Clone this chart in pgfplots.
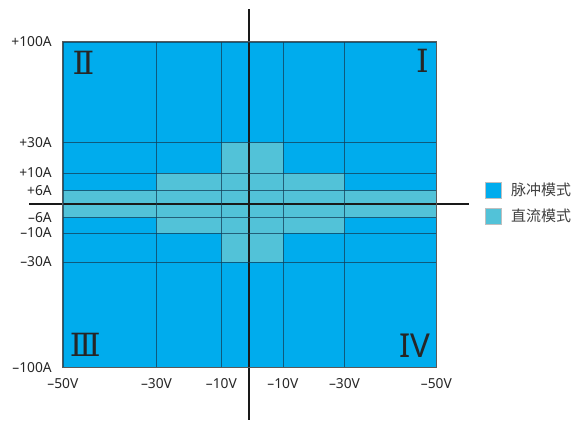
\documentclass[border=0pt]{standalone}
\usepackage{fontspec}
\setmainfont{Noto Sans}
\newfontfamily\cjk{Noto Sans CJK SC}
\newfontfamily\romanfont{DejaVu Serif}
\usepackage{pgfplots}
\pgfplotsset{compat=1.18}
\definecolor{pulse}{HTML}{00ACED}
\definecolor{dcmode}{HTML}{52C2D8}
\definecolor{gridc}{HTML}{143F58}
\begin{document}
\begin{tikzpicture}
\begin{axis}[
  x=1pt, y=1pt,
  xmin=63, xmax=437, ymin=53, ymax=379,
  clip=false, axis on top,
  grid=major,
  grid style={draw=gridc, line width=0.7pt, opacity=0.75},
  axis line style={draw=black!65, line width=0.9pt},
  major tick length=0pt,
  xtick={63,156.7,221.7,283.3,345,437},
  xticklabels={–50V,–30V,–10V,–10V,–30V,–50V},
  ytick={53,158.7,187.7,203.3,230,247.7,278.3,379},
  yticklabels={–100A,–30A,–10A,–6A,+6A,+10A,+30A,+100A},
  tick label style={font=\fontsize{13.8}{15}\selectfont, text=black!85},
  xticklabel style={anchor=north, inner sep=0pt, yshift=-11pt},
  yticklabel style={anchor=east, inner sep=0pt, xshift=-11pt},
  legend style={at={(axis cs:485.7,239)}, anchor=north west, draw=none, fill=none,
    inner sep=0pt, row sep=9pt, font=\cjk\fontsize{15}{17}\selectfont,
    text=black!75, nodes={inner sep=0pt}},
  legend cell align=left,
  legend image code/.code={\draw[#1, draw=black!25, line width=0.8pt] (0pt,-8pt) rectangle (16pt,8pt); \path (25.5pt,0pt);},
]
\path (axis cs:0,0) rectangle (axis cs:571,421);
\addplot[fill=pulse, draw=none] coordinates {(63,53) (437,53) (437,379) (63,379)} -- cycle;
\addlegendentry{脉冲模式}
\addplot[fill=dcmode, draw=none] coordinates {
  (63,230) (63,203.3) (156.7,203.3) (156.7,187.7) (221.7,187.7) (221.7,158.7)
  (283.3,158.7) (283.3,187.7) (345,187.7) (345,203.3) (437,203.3) (437,230)
  (345,230) (345,247.7) (283.3,247.7) (283.3,278.3) (221.7,278.3) (221.7,247.7)
  (156.7,247.7) (156.7,230)} -- cycle;
\addlegendentry{直流模式}
\addplot[forget plot, draw=black!90, line width=2pt] coordinates {(29.3,217) (470,217)};
\addplot[forget plot, draw=black!90, line width=2pt] coordinates {(249.7,411.7) (249.7,0)};
\node[font=\romanfont\fontsize{32}{32}\selectfont, text=black!85, anchor=center] at (axis cs:83.5,358) {Ⅱ};
\node[font=\romanfont\fontsize{32}{32}\selectfont, text=black!85, anchor=center] at (axis cs:423,360.5) {Ⅰ};
\node[font=\romanfont\fontsize{32}{32}\selectfont, text=black!85, anchor=center] at (axis cs:85.3,75.5) {Ⅲ};
\node[font=\fontsize{33}{33}\selectfont, text=black!85, anchor=center] at (axis cs:415.3,75) {IV};
\end{axis}
\end{tikzpicture}
\end{document}
